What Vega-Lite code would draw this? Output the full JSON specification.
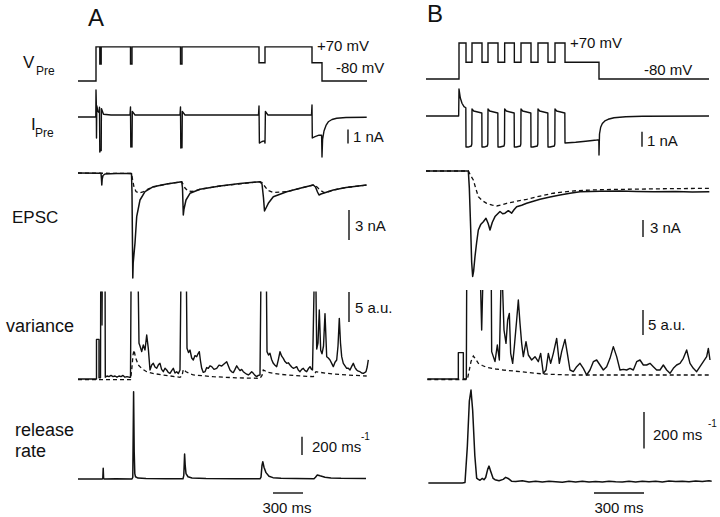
{
"$schema": "https://vega.github.io/schema/vega-lite/v6.json",
"width": 720, "height": 517,
"autosize": {"type": "fit", "contains": "padding"},
"padding": 0,
"background": "white",
"config": {"view": {"stroke": null}},
"resolve": {"scale": {"x": "independent", "y": "independent"}},
"layer": [
{
"encoding": {
"x": {"field": "t", "type": "quantitative", "scale": {"domain": [-960, 6240], "nice": false, "zero": false}, "axis": null},
"y": {"field": "v", "type": "quantitative", "scale": {"domain": [-1998.4, 276.4], "nice": false, "zero": false}, "axis": null}
},
"layer": [
{"data": {"values": [
{"t":-180,"v":-80},{"t":0,"v":-80},{"t":0,"v":70},{"t":38,"v":70},{"t":38,"v":-5},{"t":52,"v":-5},{"t":52,"v":70},
{"t":345,"v":70},{"t":345,"v":-5},{"t":360,"v":-5},{"t":360,"v":70},
{"t":845,"v":70},{"t":845,"v":-5},{"t":860,"v":-5},{"t":860,"v":70},
{"t":1630,"v":70},{"t":1630,"v":0},{"t":1690,"v":0},{"t":1690,"v":70},
{"t":2160,"v":70},{"t":2160,"v":0},{"t":2260,"v":0},{"t":2260,"v":-80},{"t":2710,"v":-80}]},
"mark": {"type": "line", "color": "#111", "strokeWidth": 1.4},
"encoding": {"order": {"value": null}}},
{"data": {"values": [{"t":2210,"v":52,"label":"+70 mV"},{"t":2400,"v":-44.8,"label":"-80 mV"}]},
"mark": {"type": "text", "align": "left", "baseline": "alphabetic", "font": "Liberation Sans", "fontSize": 15, "color": "#111"},
"encoding": {"text": {"field": "label"}}},
{"data": {"values": [{"t":-730,"v":-22.8,"label":"V"}]},
"mark": {"type": "text", "align": "left", "baseline": "alphabetic", "font": "Liberation Sans", "fontSize": 17, "color": "#111"},
"encoding": {"text": {"field": "label"}}},
{"data": {"values": [{"t":-600,"v":-53.6,"label":"Pre"}]},
"mark": {"type": "text", "align": "left", "baseline": "alphabetic", "font": "Liberation Sans", "fontSize": 12, "color": "#111"},
"encoding": {"text": {"field": "label"}}},
{"data": {"values": [{"t":0,"v":162,"label":"A"}]},
"mark": {"type": "text", "align": "center", "baseline": "alphabetic", "font": "Liberation Sans", "fontSize": 24, "color": "#111"},
"encoding": {"text": {"field": "label"}}}
]
},
{
"encoding": {
"x": {"field": "t", "type": "quantitative", "scale": {"domain": [-2754, 1566], "nice": false, "zero": false}, "axis": null},
"y": {"field": "v", "type": "quantitative", "scale": {"domain": [-1905, 249.1667], "nice": false, "zero": false}, "axis": null}
},
"layer": [
{"data": {"values": [
{"t":-198,"v":-80},{"t":0,"v":-80},{"t":0,"v":70},{"t":42,"v":70},{"t":42,"v":-10},{"t":78,"v":-10},{"t":78,"v":70},
{"t":138,"v":70},{"t":138,"v":-10},{"t":174,"v":-10},{"t":174,"v":70},
{"t":234,"v":70},{"t":234,"v":-10},{"t":274,"v":-10},{"t":274,"v":70},
{"t":332,"v":70},{"t":332,"v":-10},{"t":372,"v":-10},{"t":372,"v":70},
{"t":432,"v":70},{"t":432,"v":-10},{"t":474,"v":-10},{"t":474,"v":70},
{"t":534,"v":70},{"t":534,"v":-10},{"t":576,"v":-10},{"t":576,"v":70},
{"t":636,"v":70},{"t":636,"v":-10},{"t":840,"v":-10},{"t":840,"v":-80},{"t":1500,"v":-80}]},
"mark": {"type": "line", "color": "#111", "strokeWidth": 1.4},
"encoding": {"order": {"value": null}}},
{"data": {"values": [{"t":666,"v":49.2,"label":"+70 mV"},{"t":1110,"v":-63.3,"label":"-80 mV"}]},
"mark": {"type": "text", "align": "left", "baseline": "alphabetic", "font": "Liberation Sans", "fontSize": 15, "color": "#111"},
"encoding": {"text": {"field": "label"}}},
{"data": {"values": [{"t":-144,"v":157.5,"label":"B"}]},
"mark": {"type": "text", "align": "center", "baseline": "alphabetic", "font": "Liberation Sans", "fontSize": 24, "color": "#111"},
"encoding": {"text": {"field": "label"}}}
]
},
{
"encoding": {
"x": {"field": "t", "type": "quantitative", "scale": {"domain": [-960, 6240], "nice": false, "zero": false}, "axis": null},
"y": {"field": "v", "type": "quantitative", "scale": {"domain": [-28.5714, 8.3571], "nice": false, "zero": false}, "axis": null}
},
"layer": [
{"data": {"values": [
{"t":-180,"v":0},{"t":-2,"v":0},{"t":0,"v":1.93},{"t":3,"v":1.0},{"t":5,"v":-1.5},{"t":8,"v":0.8},{"t":20,"v":0.4},{"t":33,"v":0.3},{"t":35,"v":0.7},{"t":38,"v":-2.5},{"t":46,"v":-2.3},{"t":52,"v":-2.4},{"t":54,"v":0.6},{"t":75,"v":0.2},{"t":150,"v":0.14},
{"t":340,"v":0.14},{"t":345,"v":0.71},{"t":348,"v":-2.14},{"t":356,"v":-2.0},{"t":360,"v":-2.14},{"t":363,"v":0.4},{"t":390,"v":0.14},
{"t":840,"v":0.14},{"t":845,"v":0.71},{"t":848,"v":-2.21},{"t":856,"v":-2.0},{"t":860,"v":-2.2},{"t":863,"v":0.4},{"t":890,"v":0.14},
{"t":1625,"v":0.14},{"t":1630,"v":0.79},{"t":1634,"v":-1.86},{"t":1660,"v":-1.75},{"t":1685,"v":-1.7},{"t":1690,"v":-1.86},{"t":1694,"v":0.4},{"t":1720,"v":0.14},
{"t":2155,"v":0.14},{"t":2160,"v":0.86},{"t":2163,"v":-1.5},{"t":2190,"v":-1.4},{"t":2230,"v":-1.3},{"t":2256,"v":-1.3},{"t":2260,"v":-2.86},{"t":2266,"v":-1.6},{"t":2280,"v":-1.0},{"t":2300,"v":-0.6},{"t":2323,"v":-0.34},{"t":2360,"v":-0.18},{"t":2407,"v":-0.09},{"t":2500,"v":-0.04},{"t":2707,"v":-0.02}]},
"mark": {"type": "line", "color": "#111", "strokeWidth": 1.4, "strokeJoin": "round"},
"encoding": {"order": {"value": null}}},
{"data": {"values": [{"t":2520,"v":-0.9,"v2":-1.9}]},
"mark": {"type": "rule", "color": "#111", "strokeWidth": 1.4},
"encoding": {"y2": {"field": "v2"}}},
{"data": {"values": [{"t":2570,"v":-1.79,"label":"1 nA"}]},
"mark": {"type": "text", "align": "left", "baseline": "alphabetic", "font": "Liberation Sans", "fontSize": 15, "color": "#111"},
"encoding": {"text": {"field": "label"}}},
{"data": {"values": [{"t":-650,"v":-0.929,"label":"I"}]},
"mark": {"type": "text", "align": "left", "baseline": "alphabetic", "font": "Liberation Sans", "fontSize": 17, "color": "#111"},
"encoding": {"text": {"field": "label"}}},
{"data": {"values": [{"t":-610,"v":-1.43,"label":"Pre"}]},
"mark": {"type": "text", "align": "left", "baseline": "alphabetic", "font": "Liberation Sans", "fontSize": 12, "color": "#111"},
"encoding": {"text": {"field": "label"}}}
]
},
{
"encoding": {
"x": {"field": "t", "type": "quantitative", "scale": {"domain": [-2754, 1566], "nice": false, "zero": false}, "axis": null},
"y": {"field": "v", "type": "quantitative", "scale": {"domain": [-26.7333, 7.7333], "nice": false, "zero": false}, "axis": null}
},
"layer": [
{"data": {"values": [
{"t":-198,"v":0},{"t":-2,"v":0},{"t":0,"v":1.8},{"t":8,"v":1.2},{"t":18,"v":0.85},{"t":30,"v":0.62},{"t":41,"v":0.55},
{"t":42,"v":-2.07},{"t":55,"v":-2.07},{"t":74,"v":-2.0},{"t":77,"v":-1.85},{"t":78,"v":0.47},{"t":88,"v":0.33},{"t":137,"v":0.2},
{"t":138,"v":-2.07},{"t":150,"v":-2.07},{"t":170,"v":-2.0},{"t":173,"v":-1.85},{"t":174,"v":0.47},{"t":184,"v":0.33},{"t":233,"v":0.2},
{"t":234,"v":-2.07},{"t":246,"v":-2.07},{"t":270,"v":-2.0},{"t":273,"v":-1.85},{"t":274,"v":0.47},{"t":284,"v":0.33},{"t":331,"v":0.2},
{"t":332,"v":-2.07},{"t":344,"v":-2.07},{"t":368,"v":-2.0},{"t":371,"v":-1.85},{"t":372,"v":0.47},{"t":382,"v":0.33},{"t":431,"v":0.2},
{"t":432,"v":-2.07},{"t":444,"v":-2.07},{"t":470,"v":-2.0},{"t":473,"v":-1.85},{"t":474,"v":0.47},{"t":484,"v":0.33},{"t":533,"v":0.2},
{"t":534,"v":-2.07},{"t":546,"v":-2.07},{"t":572,"v":-2.0},{"t":575,"v":-1.85},{"t":576,"v":0.47},{"t":586,"v":0.33},{"t":635,"v":0.2},
{"t":636,"v":-1.8},{"t":700,"v":-1.75},{"t":760,"v":-1.68},{"t":826,"v":-1.6},{"t":839,"v":-1.58},{"t":840,"v":-2.6},{"t":843,"v":-1.2},{"t":850,"v":-0.75},{"t":860,"v":-0.5},{"t":875,"v":-0.33},{"t":895,"v":-0.22},{"t":930,"v":-0.12},{"t":1000,"v":-0.05},{"t":1100,"v":-0.02},{"t":1500,"v":0}]},
"mark": {"type": "line", "color": "#111", "strokeWidth": 1.4, "strokeJoin": "round"},
"encoding": {"order": {"value": null}}},
{"data": {"values": [{"t":1098,"v":-1.05,"v2":-2.05}]},
"mark": {"type": "rule", "color": "#111", "strokeWidth": 1.4},
"encoding": {"y2": {"field": "v2"}}},
{"data": {"values": [{"t":1128,"v":-2.0,"label":"1 nA"}]},
"mark": {"type": "text", "align": "left", "baseline": "alphabetic", "font": "Liberation Sans", "fontSize": 15, "color": "#111"},
"encoding": {"text": {"field": "label"}}}
]
},
{
"encoding": {
"x": {"field": "t", "type": "quantitative", "scale": {"domain": [-960, 6240], "nice": false, "zero": false}, "axis": null},
"y": {"field": "v", "type": "quantitative", "scale": {"domain": [-34.4, 17.3], "nice": false, "zero": false}, "axis": null}
},
"layer": [
{"data": {"values": [
{"t":-180,"v":0},{"t":355,"v":-0.05},{"t":365,"v":-0.6},{"t":380,"v":-1.4},{"t":400,"v":-1.85},{"t":430,"v":-2.0},{"t":470,"v":-1.9},{"t":520,"v":-1.6},{"t":573,"v":-1.4},{"t":707,"v":-1.1},{"t":857,"v":-0.87},{"t":870,"v":-1.1},{"t":890,"v":-1.5},{"t":920,"v":-1.8},{"t":960,"v":-1.85},{"t":1040,"v":-1.63},{"t":1240,"v":-1.3},{"t":1640,"v":-0.87},{"t":1660,"v":-0.95},{"t":1685,"v":-1.3},{"t":1720,"v":-1.75},{"t":1773,"v":-1.95},{"t":1850,"v":-1.9},{"t":1907,"v":-1.87},{"t":2173,"v":-1.2},{"t":2200,"v":-1.3},{"t":2240,"v":-1.7},{"t":2280,"v":-1.95},{"t":2330,"v":-1.85},{"t":2373,"v":-1.7},{"t":2500,"v":-1.45},{"t":2707,"v":-1.2}]},
"mark": {"type": "line", "color": "#111", "strokeWidth": 1.3, "strokeDash": [4, 3]},
"encoding": {"order": {"value": null}}},
{"data": {"values": [
{"t":-180,"v":0},{"t":50,"v":-0.03},{"t":54,"v":-0.5},{"t":58,"v":-1.2},{"t":62,"v":-0.6},{"t":70,"v":-0.25},{"t":90,"v":-0.1},{"t":200,"v":-0.05},{"t":355,"v":-0.05},{"t":360,"v":-2},{"t":368,"v":-10.5},{"t":372,"v":-9},{"t":390,"v":-7.0},{"t":407,"v":-4.37},{"t":440,"v":-2.7},{"t":490,"v":-1.87},{"t":573,"v":-1.37},{"t":707,"v":-1.1},{"t":857,"v":-0.87},{"t":865,"v":-1.5},{"t":873,"v":-4.2},{"t":880,"v":-3.6},{"t":900,"v":-2.7},{"t":940,"v":-2.03},{"t":1040,"v":-1.63},{"t":1240,"v":-1.3},{"t":1440,"v":-1.05},{"t":1640,"v":-0.87},{"t":1660,"v":-1.1},{"t":1675,"v":-2.5},{"t":1685,"v":-3.8},{"t":1700,"v":-3.5},{"t":1723,"v":-3.03},{"t":1773,"v":-2.37},{"t":1907,"v":-1.87},{"t":2050,"v":-1.5},{"t":2173,"v":-1.2},{"t":2195,"v":-1.4},{"t":2215,"v":-1.9},{"t":2230,"v":-2.2},{"t":2250,"v":-2.1},{"t":2273,"v":-2.03},{"t":2373,"v":-1.7},{"t":2500,"v":-1.45},{"t":2707,"v":-1.2}]},
"mark": {"type": "line", "color": "#111", "strokeWidth": 1.5, "strokeJoin": "round"},
"encoding": {"order": {"value": null}}},
{"data": {"values": [{"t":2530,"v":-3.7,"v2":-6.7}]},
"mark": {"type": "rule", "color": "#111", "strokeWidth": 1.4},
"encoding": {"y2": {"field": "v2"}}},
{"data": {"values": [{"t":2590,"v":-5.8,"label":"3 nA"}]},
"mark": {"type": "text", "align": "left", "baseline": "alphabetic", "font": "Liberation Sans", "fontSize": 15, "color": "#111"},
"encoding": {"text": {"field": "label"}}},
{"data": {"values": [{"t":-840,"v":-5.0,"label":"EPSC"}]},
"mark": {"type": "text", "align": "left", "baseline": "alphabetic", "font": "Liberation Sans", "fontSize": 17, "color": "#111"},
"encoding": {"text": {"field": "label"}}}
]
},
{
"encoding": {
"x": {"field": "t", "type": "quantitative", "scale": {"domain": [-2754, 1566], "nice": false, "zero": false}, "axis": null},
"y": {"field": "v", "type": "quantitative", "scale": {"domain": [-60.7018, 30], "nice": false, "zero": false}, "axis": null}
},
"layer": [
{"data": {"values": [
{"t":-198,"v":0},{"t":56,"v":0},{"t":70,"v":-0.8},{"t":86,"v":-1.58},{"t":100,"v":-3.0},{"t":116,"v":-4.5},{"t":140,"v":-5.2},{"t":166,"v":-5.67},{"t":200,"v":-6.0},{"t":226,"v":-6.14},{"t":256,"v":-5.95},{"t":286,"v":-5.67},{"t":346,"v":-5.3},{"t":406,"v":-4.97},{"t":486,"v":-4.4},{"t":566,"v":-3.9},{"t":636,"v":-3.65},{"t":706,"v":-3.45},{"t":820,"v":-3.3},{"t":966,"v":-3.22},{"t":1200,"v":-3.12},{"t":1502,"v":-3.04}]},
"mark": {"type": "line", "color": "#111", "strokeWidth": 1.3, "strokeDash": [4, 3]},
"encoding": {"order": {"value": null}}},
{"data": {"values": [
{"t":-198,"v":0},{"t":56,"v":0},{"t":62,"v":-3},{"t":70,"v":-10},{"t":76,"v":-16},{"t":82,"v":-18.5},{"t":88,"v":-17.5},{"t":96,"v":-15.0},{"t":106,"v":-12.5},{"t":116,"v":-10.35},{"t":130,"v":-9.4},{"t":146,"v":-8.9},{"t":162,"v":-8.3},{"t":175,"v":-9.2},{"t":186,"v":-10.35},{"t":200,"v":-9.0},{"t":216,"v":-8.0},{"t":246,"v":-7.1},{"t":262,"v":-7.5},{"t":276,"v":-7.4},{"t":296,"v":-6.96},{"t":316,"v":-7.4},{"t":330,"v":-6.8},{"t":346,"v":-6.26},{"t":376,"v":-6.0},{"t":406,"v":-5.67},{"t":446,"v":-5.3},{"t":486,"v":-4.97},{"t":546,"v":-4.55},{"t":606,"v":-4.2},{"t":666,"v":-3.9},{"t":726,"v":-3.63},{"t":846,"v":-3.55},{"t":966,"v":-3.5},{"t":1066,"v":-3.58},{"t":1166,"v":-3.63},{"t":1300,"v":-3.6},{"t":1400,"v":-3.68},{"t":1502,"v":-3.63}]},
"mark": {"type": "line", "color": "#111", "strokeWidth": 1.5, "strokeJoin": "round"},
"encoding": {"order": {"value": null}}},
{"data": {"values": [{"t":1104,"v":-8.6,"v2":-11.6}]},
"mark": {"type": "rule", "color": "#111", "strokeWidth": 1.4},
"encoding": {"y2": {"field": "v2"}}},
{"data": {"values": [{"t":1146,"v":-10.88,"label":"3 nA"}]},
"mark": {"type": "text", "align": "left", "baseline": "alphabetic", "font": "Liberation Sans", "fontSize": 15, "color": "#111"},
"encoding": {"text": {"field": "label"}}}
]
},
{
"encoding": {
"x": {"field": "t", "type": "quantitative", "scale": {"domain": [-960, 6240], "nice": false, "zero": false}, "axis": null},
"y": {"field": "v", "type": "quantitative", "scale": {"domain": [-23, 63.1667], "nice": false, "zero": false}, "axis": null}
},
"layer": [
{"data": {"values": [
{"t":-180,"v":-0.1},{"t":345,"v":-0.1},{"t":357,"v":1.5},{"t":370,"v":4.0},{"t":380,"v":4.83},{"t":395,"v":3.6},{"t":423,"v":2.33},{"t":460,"v":1.7},{"t":507,"v":1.22},{"t":580,"v":0.9},{"t":673,"v":0.67},{"t":840,"v":0.28},{"t":860,"v":0.5},{"t":873,"v":1.61},{"t":900,"v":1.2},{"t":973,"v":0.67},{"t":1173,"v":0.39},{"t":1400,"v":0.2},{"t":1640,"v":0.11},{"t":1660,"v":0.6},{"t":1673,"v":1.5},{"t":1720,"v":1.1},{"t":1840,"v":0.78},{"t":2000,"v":0.55},{"t":2173,"v":0.39},{"t":2185,"v":0.8},{"t":2200,"v":1.22},{"t":2300,"v":0.95},{"t":2507,"v":0.67},{"t":2707,"v":0.5}]},
"mark": {"type": "line", "color": "#111", "strokeWidth": 1.3, "strokeDash": [4, 3]},
"encoding": {"order": {"value": null}}},
{"data": {"values": [
{"seg":"a","t":-180,"v":0},{"seg":"a","t":5,"v":0},{"seg":"a","t":5,"v":6.6},{"seg":"a","t":30,"v":6.6},{"seg":"a","t":30,"v":0.2},{"seg":"a","t":45,"v":0.2},{"seg":"a","t":47,"v":14.6},
{"seg":"b","t":58,"v":14.6},{"seg":"b","t":60,"v":9},{"seg":"b","t":62,"v":14.6},
{"seg":"c","t":91,"v":14.6},{"seg":"c","t":93,"v":0.3},{"seg":"c","t":110,"v":0.5},{"seg":"c","t":130,"v":0.4},{"seg":"c","t":150,"v":0.6},{"seg":"c","t":170,"v":0.4},{"seg":"c","t":190,"v":0.5},{"seg":"c","t":210,"v":0.3},{"seg":"c","t":230,"v":0.5},{"seg":"c","t":250,"v":0.4},{"seg":"c","t":270,"v":0.6},{"seg":"c","t":290,"v":0.3},{"seg":"c","t":310,"v":0.4},{"seg":"c","t":330,"v":0.3},{"seg":"c","t":345,"v":0.3},{"seg":"c","t":350,"v":14.6},
{"seg":"d","t":423,"v":14.6},{"seg":"d","t":430,"v":5.94},{"seg":"d","t":440,"v":5.5},{"seg":"d","t":457,"v":4.56},{"seg":"d","t":473,"v":5.67},{"seg":"d","t":490,"v":4.83},{"seg":"d","t":507,"v":7.33},{"seg":"d","t":523,"v":5.11},{"seg":"d","t":540,"v":1.5},{"seg":"d","t":557,"v":2.33},{"seg":"d","t":573,"v":2.61},{"seg":"d","t":590,"v":2.0},{"seg":"d","t":607,"v":1.78},{"seg":"d","t":625,"v":2.4},{"seg":"d","t":640,"v":2.61},{"seg":"d","t":656,"v":1.6},{"seg":"d","t":673,"v":1.22},{"seg":"d","t":690,"v":1.8},{"seg":"d","t":707,"v":1.5},{"seg":"d","t":723,"v":1.1},{"seg":"d","t":740,"v":0.94},{"seg":"d","t":757,"v":1.4},{"seg":"d","t":773,"v":1.78},{"seg":"d","t":790,"v":1.0},{"seg":"d","t":807,"v":1.22},{"seg":"d","t":823,"v":0.9},{"seg":"d","t":840,"v":1.5},{"seg":"d","t":848,"v":14.6},
{"seg":"e","t":905,"v":14.6},{"seg":"e","t":910,"v":5.11},{"seg":"e","t":925,"v":4.4},{"seg":"e","t":940,"v":4.83},{"seg":"e","t":957,"v":3.5},{"seg":"e","t":973,"v":3.17},{"seg":"e","t":990,"v":3.9},{"seg":"e","t":1007,"v":3.72},{"seg":"e","t":1020,"v":4.2},{"seg":"e","t":1033,"v":4.56},{"seg":"e","t":1045,"v":3.0},{"seg":"e","t":1057,"v":1.78},{"seg":"e","t":1073,"v":1.1},{"seg":"e","t":1090,"v":1.22},{"seg":"e","t":1107,"v":1.9},{"seg":"e","t":1123,"v":1.78},{"seg":"e","t":1140,"v":2.2},{"seg":"e","t":1157,"v":2.06},{"seg":"e","t":1180,"v":1.6},{"seg":"e","t":1207,"v":1.78},{"seg":"e","t":1230,"v":2.3},{"seg":"e","t":1257,"v":2.17},{"seg":"e","t":1280,"v":2.5},{"seg":"e","t":1307,"v":2.89},{"seg":"e","t":1323,"v":2.2},{"seg":"e","t":1340,"v":1.5},{"seg":"e","t":1357,"v":1.2},{"seg":"e","t":1373,"v":1.06},{"seg":"e","t":1390,"v":1.6},{"seg":"e","t":1407,"v":2.2},{"seg":"e","t":1423,"v":1.78},{"seg":"e","t":1440,"v":1.4},{"seg":"e","t":1457,"v":1.6},{"seg":"e","t":1473,"v":1.22},{"seg":"e","t":1490,"v":1.0},{"seg":"e","t":1507,"v":0.8},{"seg":"e","t":1523,"v":0.67},{"seg":"e","t":1540,"v":0.9},{"seg":"e","t":1557,"v":1.2},{"seg":"e","t":1573,"v":0.94},{"seg":"e","t":1590,"v":0.6},{"seg":"e","t":1607,"v":0.39},{"seg":"e","t":1623,"v":0.6},{"seg":"e","t":1640,"v":0.67},{"seg":"e","t":1648,"v":14.6},
{"seg":"f","t":1705,"v":14.6},{"seg":"f","t":1710,"v":4.56},{"seg":"f","t":1725,"v":4.0},{"seg":"f","t":1740,"v":4.28},{"seg":"f","t":1757,"v":3.2},{"seg":"f","t":1773,"v":2.61},{"seg":"f","t":1790,"v":2.3},{"seg":"f","t":1807,"v":2.06},{"seg":"f","t":1823,"v":3.2},{"seg":"f","t":1840,"v":4.56},{"seg":"f","t":1857,"v":3.8},{"seg":"f","t":1873,"v":3.44},{"seg":"f","t":1890,"v":2.9},{"seg":"f","t":1907,"v":2.61},{"seg":"f","t":1923,"v":2.7},{"seg":"f","t":1940,"v":2.33},{"seg":"f","t":1957,"v":2.0},{"seg":"f","t":1973,"v":1.78},{"seg":"f","t":1990,"v":1.9},{"seg":"f","t":2007,"v":2.06},{"seg":"f","t":2023,"v":1.5},{"seg":"f","t":2040,"v":1.22},{"seg":"f","t":2057,"v":1.6},{"seg":"f","t":2073,"v":1.78},{"seg":"f","t":2090,"v":1.4},{"seg":"f","t":2107,"v":1.22},{"seg":"f","t":2123,"v":1.7},{"seg":"f","t":2140,"v":2.06},{"seg":"f","t":2155,"v":1.6},{"seg":"f","t":2165,"v":1.5},{"seg":"f","t":2180,"v":14.6},
{"seg":"g","t":2200,"v":14.6},{"seg":"g","t":2207,"v":5.0},{"seg":"g","t":2220,"v":6.0},{"seg":"g","t":2233,"v":11.5},{"seg":"g","t":2247,"v":4.8},{"seg":"g","t":2260,"v":4.2},{"seg":"g","t":2275,"v":5.5},{"seg":"g","t":2290,"v":10.9},{"seg":"g","t":2307,"v":3.72},{"seg":"g","t":2323,"v":3.5},{"seg":"g","t":2340,"v":3.17},{"seg":"g","t":2357,"v":2.6},{"seg":"g","t":2373,"v":2.06},{"seg":"g","t":2390,"v":2.8},{"seg":"g","t":2407,"v":3.17},{"seg":"g","t":2420,"v":5.5},{"seg":"g","t":2433,"v":10.1},{"seg":"g","t":2445,"v":6.0},{"seg":"g","t":2457,"v":3.72},{"seg":"g","t":2473,"v":2.61},{"seg":"g","t":2490,"v":2.2},{"seg":"g","t":2507,"v":1.78},{"seg":"g","t":2523,"v":1.8},{"seg":"g","t":2540,"v":1.5},{"seg":"g","t":2557,"v":2.1},{"seg":"g","t":2573,"v":2.61},{"seg":"g","t":2590,"v":1.9},{"seg":"g","t":2607,"v":1.5},{"seg":"g","t":2623,"v":1.3},{"seg":"g","t":2640,"v":1.22},{"seg":"g","t":2657,"v":1.0},{"seg":"g","t":2673,"v":0.94},{"seg":"g","t":2690,"v":1.1},{"seg":"g","t":2700,"v":1.22},{"seg":"g","t":2712,"v":2.0},{"seg":"g","t":2723,"v":3.17}]},
"mark": {"type": "line", "color": "#111", "strokeWidth": 1.4, "strokeJoin": "round"},
"encoding": {"detail": {"field": "seg"}, "order": {"value": null}}},
{"data": {"values": [{"t":2530,"v":9.5,"v2":14.5}]},
"mark": {"type": "rule", "color": "#111", "strokeWidth": 1.4},
"encoding": {"y2": {"field": "v2"}}},
{"data": {"values": [{"t":2590,"v":11.0,"label":"5 a.u."}]},
"mark": {"type": "text", "align": "left", "baseline": "alphabetic", "font": "Liberation Sans", "fontSize": 15, "color": "#111"},
"encoding": {"text": {"field": "label"}}},
{"data": {"values": [{"t":-900,"v":7.83,"label":"variance"}]},
"mark": {"type": "text", "align": "left", "baseline": "alphabetic", "font": "Liberation Sans", "fontSize": 18, "color": "#111"},
"encoding": {"text": {"field": "label"}}}
]
},
{
"encoding": {
"x": {"field": "t", "type": "quantitative", "scale": {"domain": [-2754, 1566], "nice": false, "zero": false}, "axis": null},
"y": {"field": "v", "type": "quantitative", "scale": {"domain": [-27.6, 75.8], "nice": false, "zero": false}, "axis": null}
},
"layer": [
{"data": {"values": [
{"t":-190,"v":-0.1},{"t":50,"v":-0.1},{"t":60,"v":1.5},{"t":72,"v":3.5},{"t":86,"v":4.6},{"t":100,"v":4.0},{"t":116,"v":3.13},{"t":140,"v":2.7},{"t":166,"v":2.33},{"t":220,"v":2.0},{"t":266,"v":1.8},{"t":366,"v":1.47},{"t":506,"v":1.0},{"t":666,"v":0.8},{"t":1506,"v":0.8}]},
"mark": {"type": "line", "color": "#111", "strokeWidth": 1.3, "strokeDash": [4, 3]},
"encoding": {"order": {"value": null}}},
{"data": {"values": [
{"seg":"a","t":-190,"v":0},{"seg":"a","t":-4,"v":0},{"seg":"a","t":-4,"v":5.27},{"seg":"a","t":26,"v":5.27},{"seg":"a","t":26,"v":0},{"seg":"a","t":44,"v":0},{"seg":"a","t":46,"v":17.8},
{"seg":"b","t":130,"v":17.8},{"seg":"b","t":136,"v":9.8},{"seg":"b","t":142,"v":17.8},
{"seg":"c","t":194,"v":17.8},{"seg":"c","t":196,"v":5.47},{"seg":"c","t":216,"v":3.47},{"seg":"c","t":230,"v":6.8},{"seg":"c","t":242,"v":3.8},{"seg":"c","t":251,"v":17.8},
{"seg":"d","t":262,"v":17.8},{"seg":"d","t":270,"v":9.8},{"seg":"d","t":282,"v":7.13},{"seg":"d","t":292,"v":11.8},{"seg":"d","t":302,"v":13.13},{"seg":"d","t":310,"v":5.13},{"seg":"d","t":322,"v":3.13},{"seg":"d","t":332,"v":6.47},{"seg":"d","t":346,"v":11.8},{"seg":"d","t":356,"v":15.8},{"seg":"d","t":366,"v":11.13},{"seg":"d","t":376,"v":7.13},{"seg":"d","t":386,"v":4.47},{"seg":"d","t":402,"v":7.47},{"seg":"d","t":416,"v":4.8},{"seg":"d","t":436,"v":3.8},{"seg":"d","t":456,"v":4.47},{"seg":"d","t":476,"v":3.47},{"seg":"d","t":490,"v":5.13},{"seg":"d","t":506,"v":1.13},{"seg":"d","t":522,"v":1.8},{"seg":"d","t":536,"v":5.13},{"seg":"d","t":550,"v":3.13},{"seg":"d","t":566,"v":5.13},{"seg":"d","t":586,"v":8.13},{"seg":"d","t":602,"v":3.13},{"seg":"d","t":616,"v":5.47},{"seg":"d","t":636,"v":7.93},{"seg":"d","t":650,"v":5.13},{"seg":"d","t":666,"v":1.8},{"seg":"d","t":686,"v":1.47},{"seg":"d","t":706,"v":2.47},{"seg":"d","t":726,"v":3.13},{"seg":"d","t":746,"v":2.13},{"seg":"d","t":766,"v":0.8},{"seg":"d","t":786,"v":1.8},{"seg":"d","t":806,"v":3.47},{"seg":"d","t":826,"v":3.8},{"seg":"d","t":846,"v":2.8},{"seg":"d","t":866,"v":1.8},{"seg":"d","t":886,"v":2.47},{"seg":"d","t":906,"v":4.13},{"seg":"d","t":926,"v":6.47},{"seg":"d","t":946,"v":4.47},{"seg":"d","t":966,"v":1.8},{"seg":"d","t":986,"v":1.93},{"seg":"d","t":1006,"v":1.8},{"seg":"d","t":1026,"v":2.13},{"seg":"d","t":1046,"v":1.8},{"seg":"d","t":1066,"v":3.47},{"seg":"d","t":1086,"v":3.8},{"seg":"d","t":1106,"v":2.8},{"seg":"d","t":1126,"v":2.8},{"seg":"d","t":1146,"v":3.13},{"seg":"d","t":1166,"v":2.47},{"seg":"d","t":1186,"v":1.8},{"seg":"d","t":1206,"v":1.8},{"seg":"d","t":1226,"v":2.8},{"seg":"d","t":1246,"v":1.8},{"seg":"d","t":1266,"v":1.13},{"seg":"d","t":1286,"v":2.13},{"seg":"d","t":1306,"v":2.8},{"seg":"d","t":1326,"v":3.13},{"seg":"d","t":1346,"v":4.13},{"seg":"d","t":1366,"v":5.8},{"seg":"d","t":1386,"v":3.13},{"seg":"d","t":1406,"v":2.13},{"seg":"d","t":1426,"v":1.47},{"seg":"d","t":1446,"v":2.47},{"seg":"d","t":1466,"v":3.47},{"seg":"d","t":1486,"v":4.47},{"seg":"d","t":1496,"v":6.13},{"seg":"d","t":1506,"v":3.8}]},
"mark": {"type": "line", "color": "#111", "strokeWidth": 1.4, "strokeJoin": "round"},
"encoding": {"detail": {"field": "seg"}, "order": {"value": null}}},
{"data": {"values": [{"t":1104,"v":8.8,"v2":13.8}]},
"mark": {"type": "rule", "color": "#111", "strokeWidth": 1.4},
"encoding": {"y2": {"field": "v2"}}},
{"data": {"values": [{"t":1134,"v":9.8,"label":"5 a.u."}]},
"mark": {"type": "text", "align": "left", "baseline": "alphabetic", "font": "Liberation Sans", "fontSize": 15, "color": "#111"},
"encoding": {"text": {"field": "label"}}}
]
},
{
"encoding": {
"x": {"field": "t", "type": "quantitative", "scale": {"domain": [-960, 6240], "nice": false, "zero": false}, "axis": null},
"y": {"field": "v", "type": "quantitative", "scale": {"domain": [-418, 5269], "nice": false, "zero": false}, "axis": null}
},
"layer": [
{"data": {"values": [
{"t":-180,"v":0},{"t":60,"v":0},{"t":68,"v":5},{"t":72,"v":117},{"t":76,"v":10},{"t":80,"v":0},{"t":200,"v":2},{"t":360,"v":0},{"t":368,"v":20},{"t":376,"v":960},{"t":382,"v":300},{"t":388,"v":60},{"t":395,"v":25},{"t":420,"v":10},{"t":500,"v":5},{"t":700,"v":3},{"t":870,"v":2},{"t":878,"v":40},{"t":886,"v":275},{"t":892,"v":150},{"t":900,"v":60},{"t":920,"v":25},{"t":960,"v":12},{"t":1100,"v":6},{"t":1400,"v":3},{"t":1640,"v":2},{"t":1650,"v":20},{"t":1660,"v":150},{"t":1668,"v":190},{"t":1680,"v":130},{"t":1700,"v":70},{"t":1730,"v":30},{"t":1770,"v":15},{"t":1850,"v":8},{"t":2000,"v":5},{"t":2180,"v":3},{"t":2195,"v":20},{"t":2213,"v":44},{"t":2240,"v":35},{"t":2290,"v":20},{"t":2350,"v":12},{"t":2450,"v":8},{"t":2700,"v":5}]},
"mark": {"type": "line", "color": "#111", "strokeWidth": 1.5, "strokeJoin": "round"},
"encoding": {"order": {"value": null}}},
{"data": {"values": [{"t":2060,"v":264,"v2":464}]},
"mark": {"type": "rule", "color": "#111", "strokeWidth": 1.4},
"encoding": {"y2": {"field": "v2"}}},
{"data": {"values": [{"t":1770,"t2":2070,"v":-154}]},
"mark": {"type": "rule", "color": "#111", "strokeWidth": 1.4},
"encoding": {"x2": {"field": "t2"}}},
{"data": {"values": [{"t":2160,"v":297,"label":"200 ms"}]},
"mark": {"type": "text", "align": "left", "baseline": "alphabetic", "font": "Liberation Sans", "fontSize": 15, "color": "#111"},
"encoding": {"text": {"field": "label"}}},
{"data": {"values": [{"t":2650,"v":429,"label":"-1"}]},
"mark": {"type": "text", "align": "left", "baseline": "alphabetic", "font": "Liberation Sans", "fontSize": 10, "color": "#111"},
"encoding": {"text": {"field": "label"}}},
{"data": {"values": [{"t":1910,"v":-374,"label":"300 ms"}]},
"mark": {"type": "text", "align": "center", "baseline": "alphabetic", "font": "Liberation Sans", "fontSize": 15, "color": "#111"},
"encoding": {"text": {"field": "label"}}},
{"data": {"values": [{"t":-810,"v":473,"label":"release"},{"t":-810,"v":242,"label":"rate"}]},
"mark": {"type": "text", "align": "left", "baseline": "alphabetic", "font": "Liberation Sans", "fontSize": 18, "color": "#111"},
"encoding": {"text": {"field": "label"}}}
]
},
{
"encoding": {
"x": {"field": "t", "type": "quantitative", "scale": {"domain": [-2754, 1566], "nice": false, "zero": false}, "axis": null},
"y": {"field": "v", "type": "quantitative", "scale": {"domain": [-187, 2656.5], "nice": false, "zero": false}, "axis": null}
},
"layer": [
{"data": {"values": [
{"t":-184,"v":0},{"t":20,"v":0},{"t":36,"v":3},{"t":50,"v":200},{"t":62,"v":450},{"t":72,"v":511},{"t":82,"v":400},{"t":95,"v":150},{"t":106,"v":27},{"t":116,"v":20},{"t":126,"v":15},{"t":140,"v":25},{"t":150,"v":18},{"t":160,"v":30},{"t":172,"v":75},{"t":180,"v":93},{"t":190,"v":65},{"t":205,"v":25},{"t":216,"v":18},{"t":240,"v":12},{"t":265,"v":20},{"t":280,"v":31},{"t":295,"v":25},{"t":315,"v":10},{"t":340,"v":8},{"t":380,"v":12},{"t":420,"v":6},{"t":460,"v":10},{"t":500,"v":5},{"t":540,"v":9},{"t":580,"v":7},{"t":620,"v":4},{"t":660,"v":9},{"t":700,"v":6},{"t":740,"v":10},{"t":780,"v":5},{"t":820,"v":8},{"t":860,"v":6},{"t":900,"v":10},{"t":940,"v":7},{"t":980,"v":5},{"t":1020,"v":9},{"t":1060,"v":6},{"t":1100,"v":10},{"t":1140,"v":7},{"t":1180,"v":9},{"t":1220,"v":6},{"t":1260,"v":11},{"t":1300,"v":8},{"t":1340,"v":10},{"t":1380,"v":7},{"t":1420,"v":11},{"t":1460,"v":8},{"t":1500,"v":12},{"t":1516,"v":10}]},
"mark": {"type": "line", "color": "#111", "strokeWidth": 1.5, "strokeJoin": "round"},
"encoding": {"order": {"value": null}}},
{"data": {"values": [{"t":1110,"v":190,"v2":390}]},
"mark": {"type": "rule", "color": "#111", "strokeWidth": 1.4},
"encoding": {"y2": {"field": "v2"}}},
{"data": {"values": [{"t":810,"t2":1110,"v":-55}]},
"mark": {"type": "rule", "color": "#111", "strokeWidth": 1.4},
"encoding": {"x2": {"field": "t2"}}},
{"data": {"values": [{"t":1164,"v":236.5,"label":"200 ms"}]},
"mark": {"type": "text", "align": "left", "baseline": "alphabetic", "font": "Liberation Sans", "fontSize": 15, "color": "#111"},
"encoding": {"text": {"field": "label"}}},
{"data": {"values": [{"t":1494,"v":308,"label":"-1"}]},
"mark": {"type": "text", "align": "left", "baseline": "alphabetic", "font": "Liberation Sans", "fontSize": 10, "color": "#111"},
"encoding": {"text": {"field": "label"}}},
{"data": {"values": [{"t":960,"v":-165,"label":"300 ms"}]},
"mark": {"type": "text", "align": "center", "baseline": "alphabetic", "font": "Liberation Sans", "fontSize": 15, "color": "#111"},
"encoding": {"text": {"field": "label"}}}
]
}
]
}
